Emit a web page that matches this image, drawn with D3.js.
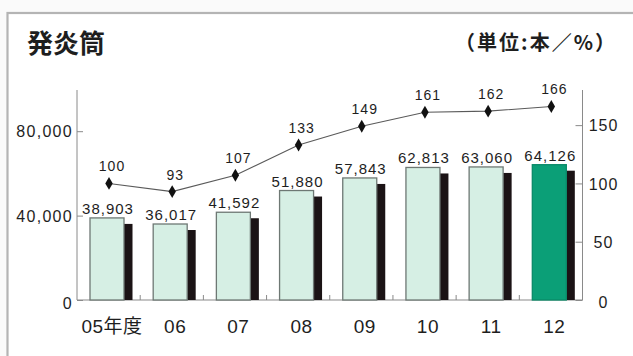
<!DOCTYPE html>
<html>
<head>
<meta charset="utf-8">
<script src="https://cdn.jsdelivr.net/npm/d3@7/dist/d3.min.js"></script>
<style>
  html, body { margin: 0; padding: 0; background: #ffffff; }
  svg { display: block; }
  text { fill: #1e1e1e; }
</style>
</head>
<body>
<script>
// Fiscal years, flare production (units) and index vs. FY05 (=100)
const years = ["05年度", "06", "07", "08", "09", "10", "11", "12"];
const counts = [38903, 36017, 41592, 51880, 57843, 62813, 63060, 64126];
const indexValues = [100, 93, 107, 133, 149, 161, 162, 166];
const leftTicks = [0, 40000, 80000];
const rightTicks = [0, 50, 100, 150];

const W = 633, H = 356;
const latin = "'Liberation Sans', Arial, sans-serif";
const cjk = "'Noto Sans CJK JP', 'Noto Sans', sans-serif";
const mixed = "'Liberation Sans', Arial, 'Noto Sans CJK JP', sans-serif";

const svg = d3.select("body").append("svg")
  .attr("width", W).attr("height", H);

// panel frame (top and left rules)
svg.append("rect").attr("width", W).attr("height", H).attr("fill", "#fafafa");
svg.append("rect").attr("x", 7.5).attr("y", 13).attr("width", W).attr("height", H)
  .attr("fill", "#ffffff").attr("stroke", "#b4b4b4").attr("stroke-width", 2.2);

// headings
svg.append("text").attr("x", 27).attr("y", 41)
  .attr("dominant-baseline", "central")
  .style("font-family", cjk).style("font-size", "26px").style("font-weight", "bold")
  .text("発炎筒");
svg.append("text").attr("x", 455).attr("y", 41)
  .attr("dominant-baseline", "central")
  .attr("textLength", 160).attr("lengthAdjust", "spacing")
  .style("font-family", cjk).style("font-size", "20px").style("font-weight", "bold")
  .text("（単位:本／%）");

// scales
const x0 = 77, x1 = 582.5, yBase = 300, yTop = 89;
const x = d3.scaleBand().domain(years).range([x0, x1]).padding(0);
const yL = d3.scaleLinear().domain([0, 100000]).range([yBase, yTop]);
const yR = d3.scaleLinear().domain([0, 181]).range([yBase, yTop]);

const axisColor = "#8a8a8a";

// left axis
const gL = svg.append("g").attr("transform", `translate(${x0},0)`)
  .call(d3.axisLeft(yL).tickValues(leftTicks).tickFormat(d3.format(","))
    .tickSizeInner(-6).tickSizeOuter(0).tickPadding(4));
gL.select(".domain").attr("stroke", axisColor).attr("d", `M0,${yBase}V90`);
gL.selectAll(".tick line").attr("stroke", axisColor);
gL.selectAll(".tick text")
  .style("font-family", latin).style("font-size", "16px").style("letter-spacing", "1.3px")
  .attr("fill", "#1e1e1e")
  .attr("dy", d => d === 0 ? "0.55em" : "0.35em");

// right axis
const gR = svg.append("g").attr("transform", `translate(${x1},0)`)
  .call(d3.axisRight(yR).tickValues(rightTicks)
    .tickSizeInner(-7).tickSizeOuter(0).tickPadding(21));
gR.select(".domain").attr("stroke", axisColor).attr("d", `M0,${yBase}V90`);
gR.selectAll(".tick line").attr("stroke", axisColor);
gR.selectAll(".tick text")
  .attr("text-anchor", "middle")
  .style("font-family", latin).style("font-size", "16px").style("letter-spacing", "1px")
  .attr("fill", "#1e1e1e")
  .attr("dy", d => d === 0 ? "0.45em" : "0.35em");

// baseline with small separators between years
svg.append("line").attr("x1", x0).attr("x2", x1).attr("y1", yBase).attr("y2", yBase)
  .attr("stroke", axisColor).attr("stroke-width", 1.2);
svg.selectAll("line.sep").data(years.slice(1)).enter().append("line")
  .attr("class", "sep")
  .attr("x1", d => x(d)).attr("x2", d => x(d))
  .attr("y1", yBase).attr("y2", yBase - 5)
  .attr("stroke", axisColor);

// bars: dark side piece, then the face
const barOff = 13, barW = 34, sideW = 8.5;
const data = years.map((y, i) => ({ year: y, count: counts[i], idx: indexValues[i], last: i === years.length - 1 }));

svg.selectAll("rect.side").data(data).enter().append("rect")
  .attr("class", "side")
  .attr("x", d => x(d.year) + barOff + barW)
  .attr("y", d => yL(d.count) + 6)
  .attr("width", sideW)
  .attr("height", d => yBase - yL(d.count) - 6)
  .attr("fill", "#1b1315");

svg.selectAll("rect.face").data(data).enter().append("rect")
  .attr("class", "face")
  .attr("x", d => x(d.year) + barOff)
  .attr("y", d => yL(d.count))
  .attr("width", barW)
  .attr("height", d => yBase - yL(d.count))
  .attr("fill", d => d.last ? "#0b9f77" : "#d6efe4")
  .attr("stroke", d => d.last ? "#0a8a68" : "#6e7874")
  .attr("stroke-width", 1.3);

// count labels
svg.selectAll("text.count").data(data).enter().append("text")
  .attr("class", "count")
  .attr("x", d => x(d.year) + barOff + barW / 2 + 1)
  .attr("y", d => yL(d.count) - 4)
  .attr("text-anchor", "middle")
  .style("font-family", latin).style("font-size", "15px").style("letter-spacing", "1px")
  .text(d => d3.format(",")(d.count));

// index line with diamond markers
const px = d => x(d.year) + 32;
svg.append("path").datum(data)
  .attr("d", d3.line().x(px).y(d => yR(d.idx)))
  .attr("fill", "none").attr("stroke", "#5a5a5a").attr("stroke-width", 1.1);
svg.selectAll("path.mark").data(data).enter().append("path")
  .attr("class", "mark")
  .attr("transform", d => `translate(${px(d)},${yR(d.idx)})`)
  .attr("d", d3.symbol().type(d3.symbolDiamond).size(48))
  .attr("fill", "#111");
svg.selectAll("text.idx").data(data).enter().append("text")
  .attr("class", "idx")
  .attr("x", d => px(d) + 3)
  .attr("y", d => yR(d.idx) - 12)
  .attr("text-anchor", "middle")
  .style("font-family", latin).style("font-size", "14px").style("letter-spacing", "1px")
  .text(d => d.idx);

// year labels
svg.selectAll("text.year").data(data).enter().append("text")
  .attr("class", "year")
  .attr("x", d => x(d.year) + 35)
  .attr("y", 333)
  .attr("text-anchor", "middle")
  .style("font-family", mixed).style("font-size", "19px").style("letter-spacing", "0.5px")
  .text(d => d.year);
</script>
</body>
</html>
